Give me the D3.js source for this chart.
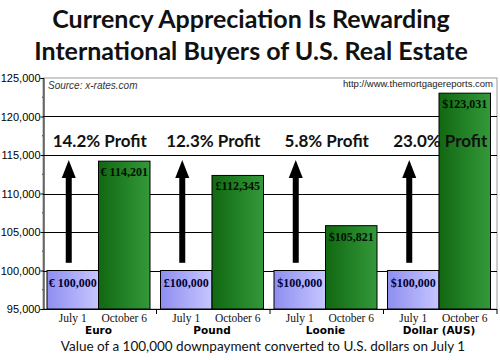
<!DOCTYPE html>
<html><head><meta charset="utf-8">
<script src="https://cdn.jsdelivr.net/npm/d3@7"></script>
<style>body{margin:0;background:#fff}svg{display:block}</style>
</head><body><svg id="c" width="500" height="360"></svg>
<script>
const currencies = ["Euro", "Pound", "Loonie", "Dollar (AUS)"];
const dates = ["July 1", "October 6"];
const july1Values = [100000, 100000, 100000, 100000];
const oct6Values = [114201, 112345, 105821, 123031];
const july1Labels = ["€ 100,000", "£100,000", "$100,000", "$100,000"];
const oct6Labels = ["€ 114,201", "£112,345", "$105,821", "$123,031"];
const profitLabels = ["14.2% Profit", "12.3% Profit", "5.8% Profit", "23.0% Profit"];
const yTicks = [95000, 100000, 105000, 110000, 115000, 120000, 125000];
const yMinorTicks = [97500, 102500, 107500, 112500, 117500, 122500];
const titleLines = ["Currency Appreciation Is Rewarding", "International Buyers of U.S. Real Estate"];
const xTitle = "Value of a 100,000 downpayment converted to U.S. dollars on July 1";
const sourceText = "Source: x-rates.com";
const urlText = "http://www.themortgagereports.com";

const svg = d3.select("#c");
const L = 43, R = 497, T = 78, B = 309;
const y = d3.scaleLinear().domain([95000, 125000]).range([B, T]);
const x0 = d3.scaleBand().domain(currencies).range([L, R]).padding(0);
const x1 = d3.scaleBand().domain(dates).range([4, x0.bandwidth() - 6.5]).padding(0);

const defs = svg.append("defs");
const gB = defs.append("linearGradient").attr("id", "gb");
gB.append("stop").attr("offset", "0%").attr("stop-color", "#8e8ef0");
gB.append("stop").attr("offset", "100%").attr("stop-color", "#c6c6ff");
const gG = defs.append("linearGradient").attr("id", "gg");
gG.append("stop").attr("offset", "0%").attr("stop-color", "#116811");
gG.append("stop").attr("offset", "100%").attr("stop-color", "#33993a");

// title
svg.append("g").selectAll("text").data(titleLines).join("text")
  .attr("x", 251).attr("y", (d, i) => 28 + i * 32)
  .attr("text-anchor", "middle")
  .attr("font-family", "Lato, 'Open Sans', sans-serif").attr("font-weight", "bold")
  .attr("font-size", 25).attr("fill", "#111").text(d => d);

// plot frame
svg.append("rect").attr("x", L).attr("y", T).attr("width", R - L).attr("height", B - T)
  .attr("fill", "#fff").attr("stroke", "#999").attr("stroke-width", 1);

// gridlines
svg.append("g").selectAll("line").data(yTicks.filter(v => v > 95000 && v < 125000)).join("line")
  .attr("x1", L).attr("x2", R).attr("y1", d => Math.round(y(d)) + 0.5).attr("y2", d => Math.round(y(d)) + 0.5)
  .attr("stroke", "#000").attr("stroke-width", 1);

// source & url
svg.append("text").attr("x", 48).attr("y", 89).attr("font-family", "Arial, 'Liberation Sans', sans-serif")
  .attr("font-style", "italic").attr("font-size", 10).attr("fill", "#333").text(sourceText);
svg.append("text").attr("x", 493).attr("y", 87).attr("text-anchor", "end")
  .attr("font-family", "Arial, 'Liberation Sans', sans-serif")
  .attr("font-size", 9.5).attr("fill", "#222").text(urlText);

// bars
const groups = svg.append("g").selectAll("g").data(currencies).join("g")
  .attr("transform", d => `translate(${x0(d)},0)`);

groups.append("rect")
  .attr("x", x1("July 1")).attr("width", x1.bandwidth())
  .attr("y", (d, i) => y(july1Values[i])).attr("height", (d, i) => y(95000) - y(july1Values[i]))
  .attr("fill", "url(#gb)").attr("stroke", "#000").attr("stroke-width", 1);
groups.append("rect")
  .attr("x", x1("October 6")).attr("width", x1.bandwidth())
  .attr("y", (d, i) => y(oct6Values[i])).attr("height", (d, i) => y(95000) - y(oct6Values[i]))
  .attr("fill", "url(#gg)").attr("stroke", "#000").attr("stroke-width", 1);

groups.append("text")
  .attr("x", x1("July 1") + x1.bandwidth() / 2).attr("y", (d, i) => y(july1Values[i]) + 16)
  .attr("text-anchor", "middle").attr("font-family", "'Liberation Serif', 'Times New Roman', serif")
  .attr("font-weight", "bold").attr("font-size", 12).attr("fill", "#000033")
  .text((d, i) => july1Labels[i]);
groups.append("text")
  .attr("x", x1("October 6") + x1.bandwidth() / 2).attr("y", (d, i) => y(oct6Values[i]) + 15)
  .attr("text-anchor", "middle").attr("font-family", "'Liberation Serif', 'Times New Roman', serif")
  .attr("font-weight", "bold").attr("font-size", 12).attr("fill", "#001000")
  .text((d, i) => oct6Labels[i]);

// arrows
const arrowX = x1("July 1") + x1.bandwidth() / 2 - 4;
const aTop = y(114350), aBot = y(101000);
groups.append("rect").attr("x", arrowX - 3).attr("width", 6)
  .attr("y", aTop + 15).attr("height", aBot - aTop - 15).attr("fill", "#000");
groups.append("path")
  .attr("d", `M${arrowX},${aTop} L${arrowX + 7},${aTop + 18} L${arrowX - 7},${aTop + 18} Z`)
  .attr("fill", "#000");

// profit labels
groups.append("text")
  .attr("x", x0.bandwidth() / 2).attr("y", 147)
  .attr("text-anchor", "middle").attr("font-family", "Lato, 'Open Sans', sans-serif")
  .attr("font-weight", "bold").attr("font-size", 17).attr("fill", "#111")
  .text((d, i) => profitLabels[i]);

// y axis
const yAxis = d3.axisLeft(y).tickValues(yTicks).tickSize(3).tickFormat(d3.format(","));
const ya = svg.append("g").attr("transform", `translate(${L + 0.5},0)`).call(yAxis);
ya.select(".domain").attr("stroke", "#000");
ya.selectAll("text").attr("font-family", "Arial, 'Liberation Sans', sans-serif").attr("font-size", 11).attr("fill", "#000").attr("x", -3);
svg.append("g").selectAll("line").data(yMinorTicks).join("line")
  .attr("x1", L - 1).attr("x2", L).attr("y1", d => y(d)).attr("y2", d => y(d)).attr("stroke", "#444");

// x axis
svg.append("line").attr("x1", L).attr("x2", R).attr("y1", B + 0.5).attr("y2", B + 0.5).attr("stroke", "#000");
svg.append("g").selectAll("line").data(currencies).join("line")
  .attr("x1", d => x0(d) + x0.bandwidth()).attr("x2", d => x0(d) + x0.bandwidth())
  .attr("y1", B).attr("y2", B + 5).attr("stroke", "#000");
groups.selectAll("text.dl").data(dates).join("text").attr("class", "dl")
  .attr("x", d => x1(d) + x1.bandwidth() / 2).attr("y", 322)
  .attr("text-anchor", "middle").attr("font-family", "'Liberation Serif', 'Times New Roman', serif")
  .attr("font-size", 11.5).attr("fill", "#111").text(d => d);
groups.append("text")
  .attr("x", (x1("July 1") + x1("October 6") + x1.bandwidth()) / 2).attr("y", 334)
  .attr("text-anchor", "middle").attr("font-family", "'DejaVu Sans', Verdana, sans-serif")
  .attr("font-weight", "bold").attr("font-size", 10.5).attr("fill", "#000").text(d => d);

svg.append("text").attr("x", 263).attr("y", 351).attr("text-anchor", "middle")
  .attr("font-family", "Lato, 'Open Sans', sans-serif").attr("font-size", 13.5)
  .attr("fill", "#111").text(xTitle);
</script></body></html>
